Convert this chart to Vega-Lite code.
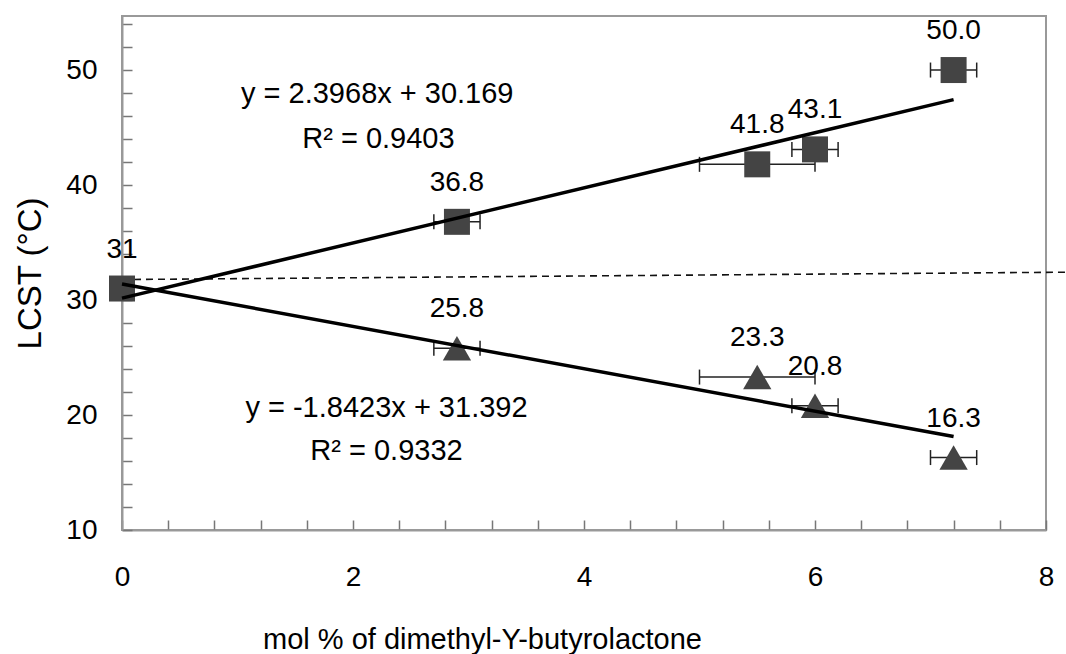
{
  "$schema": "https://vega.github.io/schema/vega-lite/v6.json",
  "width": 924,
  "height": 514,
  "autosize": {"type": "none"},
  "padding": {"left": 122, "top": 16, "right": 20, "bottom": 124},
  "background": "white",
  "config": {
    "view": {"stroke": "#999999", "strokeWidth": 2},
    "font": "Liberation Sans",
    "axis": {"grid": false, "labelOverlap": false, "labelBound": false, "labelFlush": false}
  },
  "datasets": {
    "pts": [
      {"x": 0, "y": 31, "series": "square", "label": "31"},
      {"x": 2.9, "y": 36.8, "series": "square", "label": "36.8", "xlo": 2.7, "xhi": 3.1},
      {"x": 5.5, "y": 41.8, "series": "square", "label": "41.8", "xlo": 5.0, "xhi": 6.0},
      {"x": 6.0, "y": 43.1, "series": "square", "label": "43.1", "xlo": 5.8, "xhi": 6.2},
      {"x": 7.2, "y": 50.0, "series": "square", "label": "50.0", "xlo": 7.0, "xhi": 7.4},
      {"x": 2.9, "y": 25.8, "series": "triangle", "label": "25.8", "xlo": 2.7, "xhi": 3.1},
      {"x": 5.5, "y": 23.3, "series": "triangle", "label": "23.3", "xlo": 5.0, "xhi": 6.0},
      {"x": 6.0, "y": 20.8, "series": "triangle", "label": "20.8", "xlo": 5.8, "xhi": 6.2},
      {"x": 7.2, "y": 16.3, "series": "triangle", "label": "16.3", "xlo": 7.0, "xhi": 7.4}
    ],
    "fits": [
      {"line": "up", "x": 0, "y": 30.169},
      {"line": "up", "x": 7.2, "y": 47.426},
      {"line": "down", "x": 0, "y": 31.392},
      {"line": "down", "x": 7.2, "y": 18.127}
    ],
    "ref": [
      {"x": 0, "y": 31.78},
      {"x": 8.17, "y": 32.42}
    ],
    "eqs": [
      {"x": 2.21, "y": 47.13, "text": "y = 2.3968x + 30.169"},
      {"x": 2.22, "y": 43.2, "text": "R² = 0.9403"},
      {"x": 2.29, "y": 19.83, "text": "y = -1.8423x + 31.392"},
      {"x": 2.29, "y": 16.09, "text": "R² = 0.9332"}
    ]
  },
  "resolve": {"scale": {"y": "independent"}, "axis": {"y": "independent"}},
  "layer": [
    {
      "data": {"name": "ref"},
      "mark": {"type": "line", "stroke": "#111111", "strokeWidth": 1.6, "strokeDash": [7, 5], "clip": false},
      "encoding": {
        "x": {"field": "x", "type": "quantitative", "scale": {"domain": [0, 8], "nice": false, "zero": false}},
        "y": {
          "field": "y", "type": "quantitative",
          "scale": {"domain": [10, 54.7], "nice": false, "zero": false},
          "axis": {
            "orient": "left", "title": null, "labels": false, "domain": false,
            "values": [12, 14, 16, 18, 22, 24, 26, 28, 32, 34, 36, 38, 42, 44, 46, 48, 52, 54],
            "tickSize": -10, "tickColor": "#777777", "tickWidth": 1.5
          }
        }
      }
    },
    {
      "layer": [
        {
          "data": {"name": "pts"},
          "transform": [{"filter": "datum.xlo != null"}],
          "mark": {"type": "rule", "stroke": "#222222", "strokeWidth": 1.5},
          "encoding": {
            "x": {
              "field": "xlo", "type": "quantitative",
              "scale": {"domain": [0, 8], "nice": false, "zero": false},
              "axis": {
                "title": "mol % of dimethyl-Y-butyrolactone",
                "titleFontSize": 29, "titleFontWeight": "normal", "titleColor": "#000000",
                "titleX": 360, "titleY": 118, "titleBaseline": "alphabetic", "titleAlign": "center",
                "values": [0, 0.4, 0.8, 1.2, 1.6, 2, 2.4, 2.8, 3.2, 3.6, 4, 4.4, 4.8, 5.2, 5.6, 6, 6.4, 6.8, 7.2, 7.6, 8],
                "labelExpr": "datum.value % 2 == 0 ? format(datum.value, 'd') : ''",
                "labelColor": "#000000", "labelFontSize": 28, "labelPadding": 43,
                "labelOverlap": false, "labelFlush": false,
                "tickSize": -10, "tickColor": "#777777", "tickWidth": 1.5,
                "domainColor": "#999999", "domainWidth": 2
              }
            },
            "x2": {"field": "xhi"},
            "y": {
              "field": "y", "type": "quantitative",
              "scale": {"domain": [10, 54.7], "nice": false, "zero": false},
              "axis": {
                "orient": "left",
                "title": "LCST (°C)",
                "titleFontSize": 33, "titleFontWeight": "normal", "titleColor": "#000000",
                "titleX": -92, "titleY": 257, "titleAngle": -90, "titleBaseline": "middle", "titleAlign": "center",
                "values": [10, 20, 30, 40, 50],
                "format": "d",
                "labelColor": "#000000", "labelFontSize": 28, "labelPadding": 35,
                "labelOverlap": false, "labelFlush": false,
                "tickSize": -10, "tickColor": "#777777", "tickWidth": 1.5,
                "domainColor": "#999999", "domainWidth": 2
              }
            }
          }
        },
        {
          "data": {"name": "pts"},
          "transform": [{"filter": "datum.xlo != null"}],
          "mark": {"type": "tick", "orient": "vertical", "color": "#222222", "size": 15, "thickness": 1.5, "opacity": 1},
          "encoding": {
            "x": {"field": "xlo", "type": "quantitative"},
            "y": {"field": "y", "type": "quantitative"}
          }
        },
        {
          "data": {"name": "pts"},
          "transform": [{"filter": "datum.xlo != null"}],
          "mark": {"type": "tick", "orient": "vertical", "color": "#222222", "size": 15, "thickness": 1.5, "opacity": 1},
          "encoding": {
            "x": {"field": "xhi", "type": "quantitative"},
            "y": {"field": "y", "type": "quantitative"}
          }
        },
        {
          "data": {"name": "pts"},
          "transform": [{"filter": "datum.series == 'square'"}],
          "mark": {"type": "point", "shape": "square", "filled": true, "fill": "#444444", "opacity": 1, "size": 676, "strokeWidth": 0},
          "encoding": {
            "x": {"field": "x", "type": "quantitative"},
            "y": {"field": "y", "type": "quantitative"}
          }
        },
        {
          "data": {"name": "pts"},
          "transform": [{"filter": "datum.series == 'triangle'"}],
          "mark": {"type": "point", "shape": "triangle-up", "filled": true, "fill": "#444444", "opacity": 1, "size": 800, "strokeWidth": 0},
          "encoding": {
            "x": {"field": "x", "type": "quantitative"},
            "y": {"field": "y", "type": "quantitative"}
          }
        },
        {
          "data": {"name": "fits"},
          "mark": {"type": "line", "stroke": "#000000", "strokeWidth": 3.5},
          "encoding": {
            "x": {"field": "x", "type": "quantitative"},
            "y": {"field": "y", "type": "quantitative"},
            "detail": {"field": "line"}
          }
        },
        {
          "data": {"name": "pts"},
          "mark": {"type": "text", "fontSize": 28, "color": "#000000", "align": "center", "baseline": "alphabetic", "dy": -31},
          "encoding": {
            "x": {"field": "x", "type": "quantitative"},
            "y": {"field": "y", "type": "quantitative"},
            "text": {"field": "label"}
          }
        },
        {
          "data": {"name": "eqs"},
          "mark": {"type": "text", "fontSize": 29, "color": "#000000", "align": "center", "baseline": "alphabetic"},
          "encoding": {
            "x": {"field": "x", "type": "quantitative"},
            "y": {"field": "y", "type": "quantitative"},
            "text": {"field": "text"}
          }
        }
      ]
    }
  ]
}
